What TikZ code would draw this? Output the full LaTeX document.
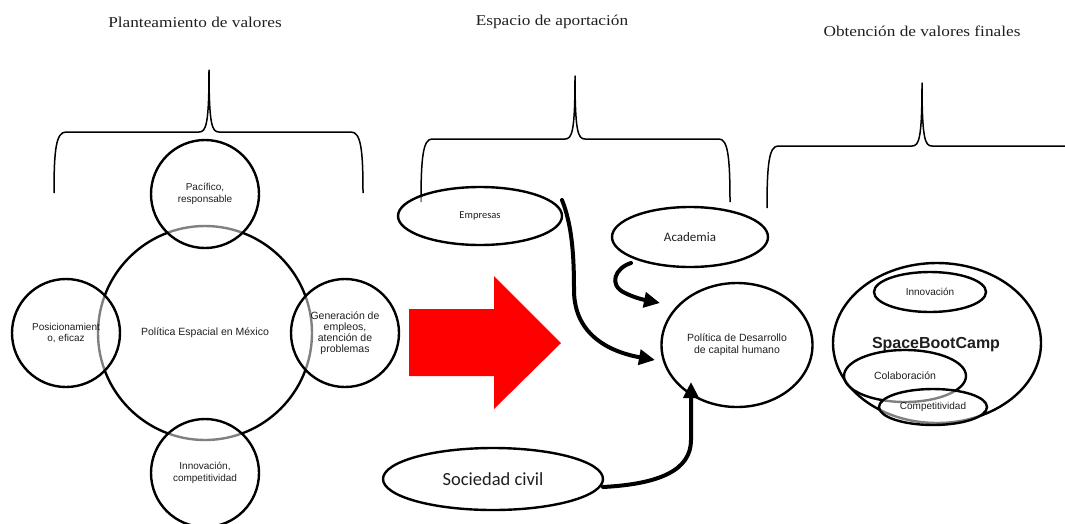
\documentclass[tikz,border=0pt]{standalone}
\usepackage{fontspec}
\usetikzlibrary{shapes.geometric,arrows.meta}
\newfontfamily\titlefont[FakeStretch=1.15]{Liberation Serif}
\newfontfamily\arialfont{Liberation Sans}
\newfontfamily\calibrifont{Carlito}
\definecolor{ink}{gray}{0.12}
\tikzset{
  title/.style={font=\titlefont\fontsize{15}{18}\selectfont, text=ink},
  bracket/.style={line width=1.5pt, line join=round},
  bubble/.style={circle, draw, line width=2.4pt, inner sep=0pt, align=center,
    fill=white, fill opacity=0.5, text opacity=1, text=ink,
    font=\arialfont\fontsize{10}{11.5}\selectfont},
  oval/.style={ellipse, draw, line width=2.4pt, inner sep=0pt, align=center,
    fill=white, fill opacity=0.5, text opacity=1, text=ink},
  flow/.style={line width=4pt, line cap=round, line join=round,
    -{Triangle[length=16pt,width=15pt]}},
}
\begin{document}
\begin{tikzpicture}[x=1pt, y=-1pt]
\useasboundingbox (0,0) rectangle (1065,523);

% column headings
\node[title] (t1) at (195,22) {Planteamiento de valores};
\node[title] (t2) at (552,22) {Espacio de aportación};
\node[title] (t3) at (922,31) {Obtención de valores finales};

% curly brackets under the headings
\draw[bracket] (54,193) .. controls (54,150) and (56,132) .. (66,132) -- (199,132)
  .. controls (206,132) and (209,125) .. (209,70)
  .. controls (209,125) and (212,132) .. (219,132) -- (351,132)
  .. controls (361,132) and (363,150) .. (363,193);
\draw[bracket] (421,202) .. controls (421,158) and (423,139) .. (432,139) -- (565,139)
  .. controls (572,139) and (575,132) .. (575,76)
  .. controls (575,132) and (578,139) .. (585,139) -- (719,139)
  .. controls (728,139) and (730,158) .. (730,202);
\draw[bracket] (767,208) .. controls (767,165) and (769,146) .. (778,146) -- (912,146)
  .. controls (919,146) and (922,139) .. (922,83)
  .. controls (922,139) and (925,146) .. (932,146) -- (1066,146);

% values around the space policy
\node[circle, draw, line width=2.4pt, minimum size=214pt, inner sep=0pt, text=ink,
  font=\arialfont\fontsize{10.5}{12}\selectfont] (pem) at (205,333) {Política Espacial en México};
\node[bubble, minimum size=108pt] (pac) at (205,194) {Pacífico,\\responsable};
\node[bubble, minimum size=108pt] (pos) at (66,333) {Posicionamient\\o, eficaz};
\node[bubble, minimum size=108pt, font=\arialfont\fontsize{10.5}{11}\selectfont] (gen) at (345,333)
  {Generación de\\empleos,\\atención de\\problemas};
\node[bubble, minimum size=108pt] (inn) at (205,473) {Innovación,\\competitividad};

% big red arrow
\fill[red] (409,309) -- (494,309) -- (494,276) -- (561,343) -- (494,409) -- (494,376) -- (409,376) -- cycle;

% contributing actors
\node[oval, minimum width=164pt, minimum height=58pt,
  font=\calibrifont\fontsize{10.5}{12}\selectfont] (emp) at (480,216) {Empresas};
\node[oval, minimum width=156pt, minimum height=60pt,
  font=\calibrifont\fontsize{13}{15}\selectfont] (aca) at (690,237) {Academia};
\node[oval, minimum width=220pt, minimum height=62pt,
  font=\calibrifont\fontsize{18.5}{21}\selectfont] (soc) at (493,479) {Sociedad civil};
\node[oval, minimum width=151pt, minimum height=124pt,
  font=\arialfont\fontsize{10.5}{12}\selectfont] (pdh) at (737,345)
  {Política de Desarrollo\\de capital humano};

% arrow ends
\coordinate (empOut) at (562,200);
\coordinate (acaOut) at (631,263);
\coordinate (socOut) at (603,487);
\coordinate (pdhInA) at (660,303);
\coordinate (pdhInB) at (655,360);
\coordinate (pdhInC) at (691,382);

\draw[flow] (empOut) .. controls (572,225) and (574,255) .. (574,290)
  .. controls (574,335) and (610,352) .. (pdhInB);
\draw[flow] (acaOut) .. controls (615,268) and (608,285) .. (625,293)
  .. controls (635,298) and (645,300) .. (pdhInA);
\draw[flow] (socOut) .. controls (660,484) and (691,470) .. (691,440) -- (pdhInC);

% final values
\node[oval, minimum width=208pt, minimum height=160pt] (sbc) at (937,343) {};
\node[font=\arialfont\bfseries\fontsize{16}{18}\selectfont, text=ink] (sbcl) at (936,345) {SpaceBootCamp};
\node[oval, minimum width=112pt, minimum height=40pt,
  font=\arialfont\fontsize{10}{12}\selectfont] (vin) at (930,292) {Innovación};
\node[oval, minimum width=122pt, minimum height=52pt,
  font=\arialfont\fontsize{10.5}{12}\selectfont] (vco) at (905,376) {Colaboración};
\node[oval, minimum width=108pt, minimum height=36pt,
  font=\arialfont\fontsize{10}{12}\selectfont] (vcp) at (933,407) {Competitividad};
\end{tikzpicture}
\end{document}
